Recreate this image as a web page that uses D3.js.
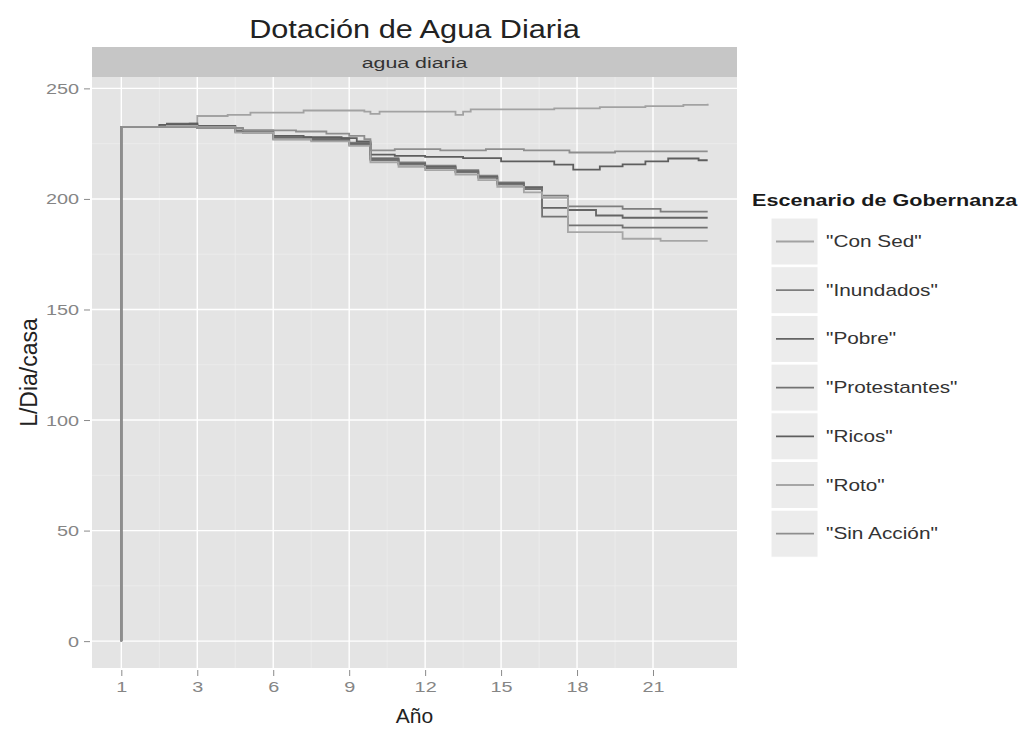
<!DOCTYPE html>
<html>
<head>
<meta charset="utf-8">
<script src="https://cdn.jsdelivr.net/npm/d3@7"></script>
<style>
  html, body { margin: 0; padding: 0; background: #ffffff; }
  svg { display: block; font-family: "Liberation Sans", Arial, Helvetica, sans-serif; }
</style>
</head>
<body>
<svg id="chart" width="1024" height="730"></svg>
<script>
// ---------------- data ----------------
const chartTitle = "Dotación de Agua Diaria";
const facetLabel = "agua diaria";
const xTitle = "Año";
const yTitle = "L/Dia/casa";
const legendTitle = "Escenario de Gobernanza";

// x positions are in "step" units, one unit between consecutive labelled ticks
const xTickSteps = [0, 1, 2, 3, 4, 5, 6, 7];
const xTickLabels = ["1", "3", "6", "9", "12", "15", "18", "21"];
const yTicks = [0, 50, 100, 150, 200, 250];

const scenarios = ['"Con Sed"', '"Inundados"', '"Pobre"', '"Protestantes"', '"Ricos"', '"Roto"', '"Sin Acción"'];
const scenarioColors = ["#a2a2a2", "#7e7e7e", "#646464", "#727272", "#5e5e5e", "#a6a6a6", "#8e8e8e"];

// step series: [step, value] change points
const conSed = [[0,0],[0,232.5],[0.5,233],[1.0,237.5],[1.4,238],[1.7,239],[2.4,240],[3.2,239.5],[3.28,238.5],[3.4,239.5],[4.4,238],[4.5,239.5],[4.6,240.5],[5.7,241],[6.3,241.5],[6.9,242],[7.4,242.5],[7.72,243]];
const inundados = [[0,0],[0,232.5],[0.6,233.5],[1.0,233],[1.5,231],[2.0,228],[2.5,227.5],[3.0,225.5],[3.28,218.5],[3.65,216.5],[4.0,215],[4.4,213],[4.7,210.5],[4.95,207.5],[5.3,205.5],[5.54,201.5],[5.88,196.6],[6.6,195.5],[7.1,194.3],[7.72,194.3]];
const pobre = [[0,0],[0,232.5],[0.6,234],[1.0,233],[1.5,230.5],[2.0,227.5],[2.5,227],[3.0,225],[3.28,218],[3.65,216],[4.0,214.5],[4.4,212.5],[4.7,210],[4.95,207],[5.3,205],[5.54,196],[5.88,195],[6.25,192.5],[6.6,191.5],[7.72,191.5]];
const protestantes = [[0,0],[0,232.5],[0.6,233.5],[1.0,232.5],[1.5,230.5],[2.0,227],[2.5,226.5],[3.0,224.5],[3.28,217.5],[3.65,215.5],[4.0,214],[4.4,212],[4.7,209.5],[4.95,206.5],[5.3,204.5],[5.54,192],[5.88,188],[6.6,187],[7.72,187]];
const ricos = [[0,0],[0,232.5],[0.5,233.5],[0.9,234],[1.0,232],[1.6,230],[2.0,228.5],[2.4,228],[2.9,227.5],[3.1,226],[3.28,220],[3.6,219.5],[4.0,219],[4.5,218.5],[5.0,217],[5.7,215.5],[5.95,213.3],[6.3,214.7],[6.6,215.6],[6.9,217],[7.2,218.3],[7.6,217.5],[7.72,217.5]];
const roto = [[0,0],[0,232.5],[0.6,233],[1.0,232.5],[1.5,230],[2.0,227],[2.5,226],[3.0,224],[3.28,216.5],[3.65,214.5],[4.0,213],[4.4,211],[4.7,208.5],[4.95,205.5],[5.3,203],[5.54,200.5],[5.88,185],[6.6,182],[7.1,181],[7.72,181]];
const sinAccion = [[0,0],[0,232.5],[1.0,232],[1.6,231],[2.3,230.5],[2.7,229.5],[3.0,228.5],[3.2,227],[3.28,222],[3.6,222.5],[4.2,222],[4.8,222.5],[5.3,222],[5.9,221],[6.5,221.5],[7.72,221.5]];

const seriesValues = [conSed, inundados, pobre, protestantes, ricos, roto, sinAccion];

// ---------------- layout ----------------
const svg = d3.select("#chart");
const panel = { left: 92, right: 737, top: 77, bottom: 668 };
const strip = { top: 47, bottom: 77 };

const allPts = seriesValues.flat();
const xExt = d3.extent(allPts, d => d[0]);
const yExt = d3.extent(allPts, d => d[1]);
const xPad = (xExt[1] - xExt[0]) * 0.05;
const yPad = (yExt[1] - yExt[0]) * 0.05;

const x = d3.scaleLinear().domain([xExt[0] - xPad, xExt[1] + xPad]).range([panel.left, panel.right]);
const y = d3.scaleLinear().domain([yExt[0] - yPad, yExt[1] + yPad]).range([panel.bottom, panel.top]);

// helper: horizontally widened text (the reference scan is stretched sideways)
function wideText(parent, tx, ty, sx, txt, opts) {
  const g = parent.append("g").attr("transform", `translate(${tx},${ty}) scale(${sx},1)`);
  const t = g.append("text").attr("x", 0).attr("y", 0).text(txt);
  Object.entries(opts).forEach(([k, v]) => t.attr(k, v));
  return t;
}

// title
wideText(svg, (panel.left + panel.right) / 2, 38, 1.18, chartTitle,
  { "text-anchor": "middle", "font-size": 26, "fill": "#222" });

// strip
svg.append("rect").attr("x", panel.left).attr("y", strip.top).attr("width", panel.right - panel.left)
  .attr("height", strip.bottom - strip.top).attr("fill", "#c6c6c6");
wideText(svg, (panel.left + panel.right) / 2, (strip.top + strip.bottom) / 2 + 5.5, 1.38, facetLabel,
  { "text-anchor": "middle", "font-size": 15.5, "fill": "#333" });

// panel background
svg.append("rect").attr("x", panel.left).attr("y", panel.top).attr("width", panel.right - panel.left)
  .attr("height", panel.bottom - panel.top).attr("fill", "#e4e4e4");

// minor grid
const xMinor = xTickSteps.slice(0, -1).map((d, i) => (d + xTickSteps[i + 1]) / 2);
const yMinor = yTicks.slice(0, -1).map((d, i) => (d + yTicks[i + 1]) / 2);
const grid = svg.append("g");
grid.selectAll(".xm").data(xMinor).join("line")
  .attr("x1", d => x(d)).attr("x2", d => x(d)).attr("y1", panel.top).attr("y2", panel.bottom)
  .attr("stroke", "#ededed").attr("stroke-width", 0.8);
grid.selectAll(".ym").data(yMinor).join("line")
  .attr("y1", d => y(d)).attr("y2", d => y(d)).attr("x1", panel.left).attr("x2", panel.right)
  .attr("stroke", "#ededed").attr("stroke-width", 0.8);
// major grid
grid.selectAll(".xg").data(xTickSteps).join("line")
  .attr("x1", d => x(d)).attr("x2", d => x(d)).attr("y1", panel.top).attr("y2", panel.bottom)
  .attr("stroke", "#ffffff").attr("stroke-width", 1.4);
grid.selectAll(".yg").data(yTicks).join("line")
  .attr("y1", d => y(d)).attr("y2", d => y(d)).attr("x1", panel.left).attr("x2", panel.right)
  .attr("stroke", "#ffffff").attr("stroke-width", 1.4);

// axes
const tickSx = 1.28;
const xAxis = d3.axisBottom(x).tickValues(xTickSteps).tickFormat((d, i) => xTickLabels[i])
  .tickSize(6).tickPadding(5);
const gx = svg.append("g").attr("transform", `translate(0,${panel.bottom + 2})`).call(xAxis);
gx.select(".domain").remove();
gx.selectAll(".tick line").attr("stroke", "#8a8a8a");
gx.selectAll(".tick text").attr("font-size", 15.5).attr("fill", "#858585")
  .attr("font-family", "Liberation Sans, Arial, sans-serif")
  .attr("transform", `scale(${tickSx},1)`);

const yAxis = d3.axisLeft(y).tickValues(yTicks).tickSize(6).tickPadding(5);
const gy = svg.append("g").attr("transform", `translate(${panel.left - 2},0)`).call(yAxis);
gy.select(".domain").remove();
gy.selectAll(".tick line").attr("stroke", "#8a8a8a");
gy.selectAll(".tick text").attr("font-size", 15.5).attr("fill", "#858585")
  .attr("font-family", "Liberation Sans, Arial, sans-serif")
  .attr("x", -11 / tickSx).attr("transform", `scale(${tickSx},1)`);

// axis titles
svg.append("text").attr("x", (panel.left + panel.right) / 2).attr("y", 723)
  .attr("text-anchor", "middle").attr("font-size", 21).attr("fill", "#222").text(xTitle);
svg.append("text").attr("transform", `translate(37,${(panel.top + panel.bottom) / 2}) rotate(-90)`)
  .attr("text-anchor", "middle").attr("font-size", 23).attr("fill", "#222").text(yTitle);

// lines
const line = d3.line().x(d => x(d[0])).y(d => y(d[1])).curve(d3.curveStepAfter);
const gl = svg.append("g");
seriesValues.forEach((s, i) => {
  gl.append("path").attr("d", line(s)).attr("fill", "none")
    .attr("stroke", scenarioColors[i]).attr("stroke-width", 1.8);
});

// legend
const lg = svg.append("g");
wideText(lg, 752, 206, 1.35, legendTitle,
  { "font-size": 16, "font-weight": "bold", "fill": "#1a1a1a" });
const keySize = 47, keyTop = 218, keyStep = 48.7, keyLeft = 771;
scenarios.forEach((name, i) => {
  const ky = keyTop + i * keyStep;
  lg.append("rect").attr("x", keyLeft).attr("y", ky).attr("width", keySize).attr("height", keySize)
    .attr("fill", "#ececec").attr("stroke", "#ffffff").attr("stroke-width", 1);
  lg.append("line").attr("x1", keyLeft + 5).attr("x2", keyLeft + keySize - 4)
    .attr("y1", ky + keySize / 2).attr("y2", ky + keySize / 2)
    .attr("stroke", scenarioColors[i]).attr("stroke-width", 1.8);
  wideText(lg, 826, ky + keySize / 2 + 5.5, 1.3, name, { "font-size": 16, "fill": "#333" });
});
</script>
</body>
</html>
